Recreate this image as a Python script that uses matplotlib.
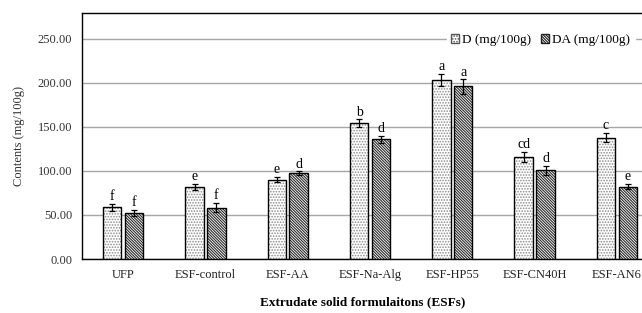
import numpy as np
import matplotlib.pyplot as plt
from matplotlib.patches import Patch

plt.rcParams['font.family'] = ['Liberation Serif', 'DejaVu Serif']
plt.rcParams['hatch.linewidth'] = 0.8

categories = ['UFP', 'ESF-control', 'ESF-AA', 'ESF-Na-Alg', 'ESF-HP55', 'ESF-CN40H', 'ESF-AN6']
d_values = [59, 82, 90, 154, 203, 116, 138]
d_errors = [4, 3.5, 3, 4.5, 7, 6, 5]
d_letters = ['f', 'e', 'e', 'b', 'a', 'cd', 'c']
da_values = [52, 58.5, 97.5, 136, 196, 101, 82]
da_errors = [3.5, 5, 2, 4, 8, 5, 3]
da_letters = ['f', 'f', 'd', 'd', 'a', 'd', 'e']
yticks = [0, 50, 100, 150, 200, 250]

D_HATCH = '......'
DA_HATCH = '\\' * 12

fig = plt.figure(figsize=(6.42, 3.13), dpi=100)
ax = fig.add_axes([0.1277, 0.1725, 0.8973, 0.786])

x = np.arange(len(categories))
w = 0.225
gap = 0.04
xd = x - w / 2 - gap / 2
xda = x + w / 2 + gap / 2

# hatch layer first (grey dots / dark diagonals), then black outline on top
ax.bar(xd, d_values, w, color='white', edgecolor='#8c8c8c', linewidth=0,
       hatch=D_HATCH, zorder=3)
ax.bar(xda, da_values, w, color='white', edgecolor='#2a2a2a', linewidth=0,
       hatch=DA_HATCH, zorder=3)
ax.bar(xd, d_values, w, fill=False, edgecolor='black', linewidth=1.0, zorder=3.5)
ax.bar(xda, da_values, w, fill=False, edgecolor='black', linewidth=1.0, zorder=3.5)

ax.errorbar(xd, d_values, yerr=d_errors, fmt='none', ecolor='black',
            elinewidth=0.9, capsize=2.5, capthick=0.9, zorder=4)
ax.errorbar(xda, da_values, yerr=da_errors, fmt='none', ecolor='black',
            elinewidth=0.9, capsize=2.5, capthick=0.9, zorder=4)

# significance letters
for xi, v, e, t in zip(xd, d_values, d_errors, d_letters):
    ax.text(xi, v + e + 1, t, ha='center', va='bottom', fontsize=10)
for xi, v, e, t in zip(xda, da_values, da_errors, da_letters):
    ax.text(xi, v + e + 1, t, ha='center', va='bottom', fontsize=10)

ax.set_xlim(-0.5, len(categories) - 0.5)
ax.set_ylim(0, 279.5)
ax.set_yticks(yticks)
ax.set_yticklabels([f'{t:.2f}' for t in yticks], fontsize=9, color='#333333')
ax.set_xticks(x)
ax.set_xticklabels(categories, fontsize=9, color='#222222')
ax.tick_params(length=0, pad=7)
ax.yaxis.grid(True, color='#a6a6a6', linewidth=1.0, zorder=0)
ax.set_axisbelow(True)
for s in ['left', 'bottom', 'top']:
    ax.spines[s].set_color('black')
    ax.spines[s].set_linewidth(1.0)
ax.spines['right'].set_visible(False)

ax.set_ylabel('Contents (mg/100g)', fontsize=9, color='#333333', labelpad=9)
fig.text(0.565, 0.015, 'Extrudate solid formulaitons (ESFs)', ha='center',
         va='bottom', fontsize=9.5, fontweight='bold')

handles = [Patch(facecolor='white', edgecolor='#555555', hatch=D_HATCH, label='D (mg/100g)'),
           Patch(facecolor='white', edgecolor='#222222', hatch=DA_HATCH, label='DA (mg/100g)')]
leg = ax.legend(handles=handles, loc='center', bbox_to_anchor=(0.842, 0.872),
                bbox_transform=fig.transFigure, ncol=2, frameon=True, fontsize=9.5,
                handlelength=0.6, handleheight=0.6, handletextpad=0.2,
                columnspacing=0.8, borderpad=0.35)
leg.get_frame().set_edgecolor('white')
leg.get_frame().set_facecolor('white')
leg.get_frame().set_alpha(1)

fig.savefig('out.png', dpi=100)
